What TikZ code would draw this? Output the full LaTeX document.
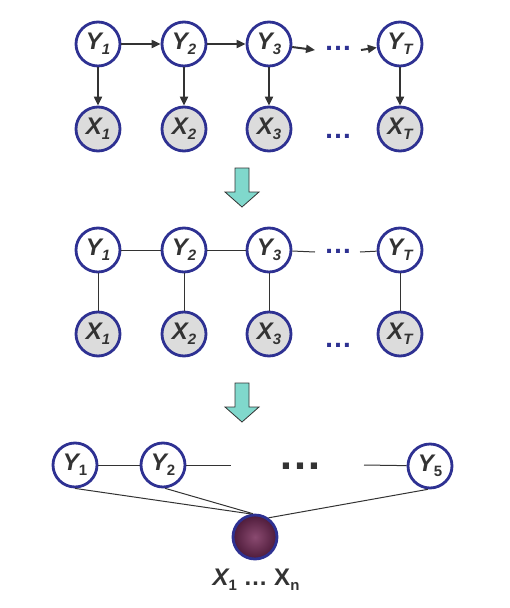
\documentclass[tikz,border=0pt]{standalone}
\usepackage{fontspec}
\setmainfont{Liberation Sans}
\usetikzlibrary{arrows.meta}
\definecolor{navy}{HTML}{2E3192}
\definecolor{ink}{HTML}{333333}
\definecolor{obsgray}{HTML}{DCDCDC}
\definecolor{teal}{HTML}{80D8CC}
\definecolor{plumin}{HTML}{8A4A70}
\definecolor{plumout}{HTML}{4E1B3A}
\newcommand\vlab[2]{{\bfseries\itshape #1\raisebox{-0.4ex}{\fontsize{15}{15}\selectfont #2}}}
\newcommand\ulab[2]{{\bfseries\itshape #1\raisebox{-0.4ex}{\upshape\fontsize{15}{15}\selectfont #2}}}
\begin{document}
\begin{tikzpicture}[x=1pt,y=-1pt,
  var/.style={circle, draw=navy, line width=2.8pt, fill=white, minimum size=44pt, inner sep=0pt,
    text=ink, font=\fontsize{24}{24}\selectfont},
  obs/.style={var, fill=obsgray},
  hid/.style={circle, draw=navy, line width=2.8pt, minimum size=44pt, inner sep=0pt,
    inner color=plumin, outer color=plumout},
  dir/.style={draw=ink, line width=2pt, -{Triangle[length=9pt,width=8pt]}},
  und/.style={draw=ink, line width=1pt},
  navydots/.style={text=navy, font=\bfseries\fontsize{28}{28}\selectfont, inner sep=0pt},
  bigdots/.style={text=ink, font=\bfseries\fontsize{44}{44}\selectfont, inner sep=0pt},
  fatarrow/.style={draw=ink, line width=0.8pt, fill=teal}
]
\useasboundingbox (0,0) rectangle (510,608);

% ---------- top: directed HMM ----------
\node[var] (a1) at (98,44) {\vlab{Y}{1}};
\node[var] (a2) at (184,44) {\vlab{Y}{2}};
\node[var] (a3) at (269,44) {\vlab{Y}{3}};
\node[var] (aT) at (400,44) {\vlab{Y}{T}};
\node[obs] (b1) at (98,129) {\vlab{X}{1}};
\node[obs] (b2) at (184,129) {\vlab{X}{2}};
\node[obs] (b3) at (269,129) {\vlab{X}{3}};
\node[obs] (bT) at (400,129) {\vlab{X}{T}};
\node[navydots] (ad) at (338,48) {…};
\node[navydots] (bd) at (338,136) {…};
\coordinate (ae1) at (315,50);
\coordinate (ae2) at (361,50);
\draw[dir] (a1) -- (a2);
\draw[dir] (a2) -- (a3);
\draw[dir] (a3) -- (ae1);
\draw[dir] (ae2) -- (aT);
\draw[dir] (a1.south) -- (b1.north);
\draw[dir] (a2.south) -- (b2.north);
\draw[dir] (a3.south) -- (b3.north);
\draw[dir] (aT.south) -- (bT.north);

% ---------- arrow 1 ----------
\draw[fatarrow] (235,168) -- (249,168) -- (249,192) -- (259,192) -- (242,207) -- (225,192) -- (235,192) -- cycle;

% ---------- middle: undirected chain ----------
\node[var] (c1) at (98,250) {\vlab{Y}{1}};
\node[var] (c2) at (184,250) {\vlab{Y}{2}};
\node[var] (c3) at (269,250) {\vlab{Y}{3}};
\node[var] (cT) at (400,250) {\vlab{Y}{T}};
\node[obs] (d1) at (98,334) {\vlab{X}{1}};
\node[obs] (d2) at (184,334) {\vlab{X}{2}};
\node[obs] (d3) at (269,334) {\vlab{X}{3}};
\node[obs] (dT) at (400,334) {\vlab{X}{T}};
\node[navydots] (cd) at (338,251) {…};
\node[navydots] (dd) at (338,345) {…};
\coordinate (ce1) at (315,252);
\coordinate (ce2) at (360,252);
\draw[und] (c1) -- (c2);
\draw[und] (c2) -- (c3);
\draw[und] (c3) -- (ce1);
\draw[und] (ce2) -- (cT);
\draw[und] (c1.south) -- (d1.north);
\draw[und] (c2.south) -- (d2.north);
\draw[und] (c3.south) -- (d3.north);
\draw[und] (cT.south) -- (dT.north);

% ---------- arrow 2 ----------
\draw[fatarrow] (235,383) -- (249,383) -- (249,407) -- (259,407) -- (242,422) -- (225,407) -- (235,407) -- cycle;

% ---------- bottom: naive Bayes style ----------
\node[var] (e1) at (75,465) {\ulab{Y}{1}};
\node[var] (e2) at (163,465) {\ulab{Y}{2}};
\node[var] (e5) at (430,466) {\ulab{Y}{5}};
\node[hid] (h) at (255,537) {};
\node[text=ink, font=\bfseries\itshape\fontsize{24}{24}\selectfont, inner sep=0pt] (hl) at (256,580)
  {X\raisebox{-0.4ex}{\upshape\fontsize{15}{15}\selectfont 1} \upshape… X\raisebox{-0.4ex}{\upshape\fontsize{15}{15}\selectfont n}};
\node[bigdots] (ed) at (300,466) {…};
\coordinate (ee1) at (231,465);
\coordinate (ee2) at (364,465);
\draw[und] (e1) -- (e2);
\draw[und] (e2) -- (ee1);
\draw[und] (ee2) -- (e5);
\draw[und] (e1.south) -- (h.100);
\draw[und] (e2.-85) -- (h.95);
\draw[und] (e5.-95) -- (h.55);
\end{tikzpicture}
\end{document}
